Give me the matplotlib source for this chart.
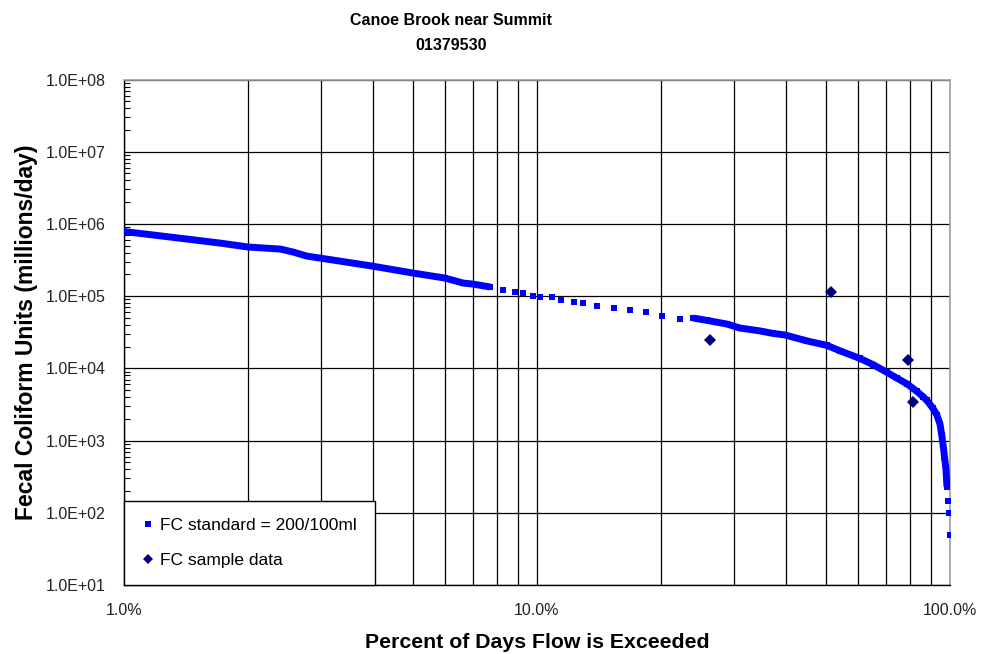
import numpy as np
import matplotlib.pyplot as plt
from matplotlib.ticker import FuncFormatter, LogLocator, NullFormatter

plt.rcParams['font.family'] = ['Liberation Sans', 'DejaVu Sans']

# Load duration curve at the FC standard (percent of days exceeded, millions/day)
pct_exceeded = np.array([
    1.00, 1.18, 1.42, 1.71, 2.00, 2.39, 2.57, 2.77, 2.98, 3.33, 3.99, 5.01,
    5.99, 6.62, 7.00, 7.70,
    8.27, 8.85, 9.25, 9.78, 10.17, 10.87, 11.43, 12.29, 12.92, 13.98, 15.37,
    16.80, 18.36, 20.08, 22.19,
    23.87, 25.80, 28.84, 31.00, 34.70, 37.27, 39.85, 45.06, 50.37, 54.16,
    60.55, 65.10, 70.39, 74.50, 78.68, 83.19, 86.04, 87.96, 90.95, 93.00,
    94.58, 95.50, 96.17, 97.00, 97.80, 98.33,
    98.90, 99.45, 100.0,
])
fc_load = np.array([
    7.85e5, 7.02e5, 6.18e5, 5.43e5, 4.79e5, 4.49e5, 4.08e5, 3.59e5, 3.37e5,
    3.06e5, 2.61e5, 2.09e5, 1.78e5, 1.52e5, 1.47e5, 1.34e5,
    1.215e5, 1.14e5, 1.10e5, 1.00e5, 9.7e4, 9.6e4, 8.83e4, 8.28e4, 8.02e4,
    7.29e4, 6.84e4, 6.42e4, 6.03e4, 5.30e4, 4.82e4,
    4.98e4, 4.62e4, 4.11e4, 3.62e4, 3.30e4, 3.05e4, 2.90e4, 2.40e4, 2.08e4,
    1.75e4, 1.37e4, 1.13e4, 8.8e3, 7.3e3, 6.1e3, 4.8e3, 4.05e3, 3.6e3,
    2.8e3, 2.25e3, 1.7e3, 1.2e3, 9.0e2, 6.0e2, 4.0e2, 2.3e2,
    145, 99, 49,
])

# Sampled fecal coliform loads
sample_pct = np.array([26.2, 51.5, 79.1, 81.3])
sample_load = np.array([2.48e4, 1.15e5, 1.31e4, 3.4e3])

blue = '#0000FF'
navy = '#000080'

fig = plt.figure(figsize=(9.84, 6.54), dpi=100)
ax = fig.add_axes([0.126, 0.1055, 0.8394, 0.7729])

# continuous stretches of the curve, where daily values sit shoulder to shoulder
for lo, hi in [(1.0, 7.7), (23.8, 98.4)]:
    m = (pct_exceeded >= lo) & (pct_exceeded <= hi)
    ax.plot(pct_exceeded[m], fc_load[m], '-', color=blue, lw=5.0,
            solid_capstyle='butt', solid_joinstyle='round', zorder=3)

ax.plot(pct_exceeded, fc_load, 's', color=blue, ms=5.0, mew=0,
        label='FC standard = 200/100ml', zorder=4)
ax.plot(sample_pct, sample_load, 'D', color=navy, ms=6.0, mew=0,
        label='FC sample data', zorder=5)

ax.set_xscale('log')
ax.set_yscale('log')
ax.set_xlim(1, 100)
ax.set_ylim(10, 1e8)

ax.xaxis.set_major_locator(LogLocator(base=10, numticks=10))
ax.xaxis.set_minor_locator(LogLocator(base=10, subs=np.arange(2, 10), numticks=20))
ax.xaxis.set_major_formatter(FuncFormatter(lambda v, p: f'{v:.1f}%'))
ax.xaxis.set_minor_formatter(NullFormatter())
ax.yaxis.set_major_locator(LogLocator(base=10, numticks=12))
ax.yaxis.set_minor_locator(LogLocator(base=10, subs=np.arange(2, 10), numticks=20))
ax.yaxis.set_major_formatter(FuncFormatter(lambda v, p: f'{v:.1E}'))
ax.yaxis.set_minor_formatter(NullFormatter())

ax.grid(True, which='major', axis='both', color='black', lw=0.9, zorder=1)
ax.grid(True, which='minor', axis='x', color='black', lw=0.9, zorder=1)
ax.set_axisbelow(True)

ax.tick_params(axis='x', which='major', length=0, pad=13, labelsize=11.5,
               labelcolor='#222222')
ax.tick_params(axis='x', which='minor', length=0, labelbottom=False)
ax.tick_params(axis='y', which='major', length=0, pad=13, labelsize=11.5,
               labelcolor='#222222')
ax.tick_params(axis='y', which='minor', direction='in', length=4, width=0.8,
               left=True, right=False, labelleft=False)

for side in ['left', 'bottom']:
    ax.spines[side].set_color('black')
    ax.spines[side].set_linewidth(1.0)
for side in ['top', 'right']:
    ax.spines[side].set_color('#a0a0a0')
    ax.spines[side].set_linewidth(1.2)

ax.set_xlabel('Percent of Days Flow is Exceeded', fontsize=15.3, fontweight='bold',
              labelpad=11)
ax.set_ylabel('Fecal Coliform Units (millions/day)', fontsize=16.5,
              fontweight='bold', labelpad=6)

fig.text(0.458, 0.969, 'Canoe Brook near Summit', ha='center', va='center',
         fontsize=11.5, fontweight='bold')
fig.text(0.458, 0.931, '01379530', ha='center', va='center',
         fontsize=11.5, fontweight='bold')

leg = ax.legend(loc='lower left', borderaxespad=0, fancybox=False,
                fontsize=12.5, handlelength=0.8, handletextpad=0.3,
                borderpad=1.0, labelspacing=1.1, markerscale=0.8,
                framealpha=1, edgecolor='black')
leg.get_frame().set_linewidth(1.0)
leg.set_zorder(6)

fig.savefig('out.png', dpi=100, facecolor='white')
